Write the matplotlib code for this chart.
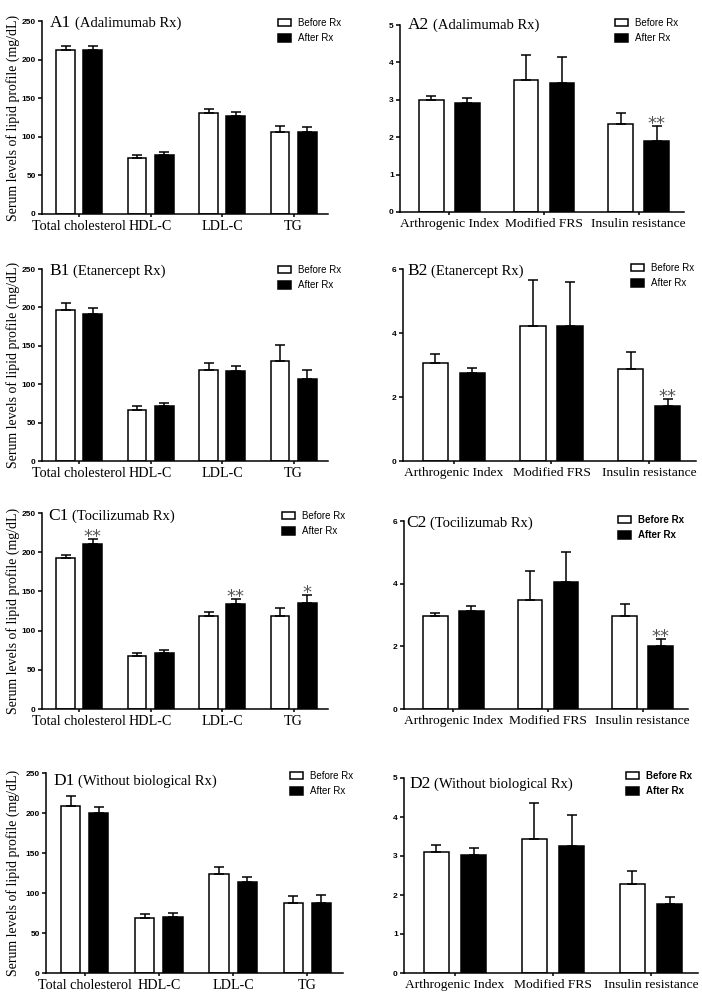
import matplotlib
matplotlib.use('Agg')
import matplotlib.pyplot as plt
from matplotlib.patches import Patch
import numpy as np

SERIF = 'Liberation Serif'
SANS = 'Liberation Sans'

lipid_cats = ['Total cholesterol', 'HDL-C', 'LDL-C', 'TG']
risk_cats = ['Arthrogenic Index', 'Modified FRS', 'Insulin resistance']
legend_labels = ['Before Rx', 'After Rx']

# A: Adalimumab
a1_before = [212, 73, 131, 106]
a1_before_err = [6, 3, 5.5, 8]
a1_after = [212, 77, 127, 106]
a1_after_err = [5.5, 3, 5.5, 7]
a1_sig = ['', '', '', '']
a2_before = [3.0, 3.53, 2.36]
a2_before_err = [0.1, 0.66, 0.28]
a2_after = [2.92, 3.44, 1.90]
a2_after_err = [0.13, 0.71, 0.40]
a2_sig = ['', '', '**']

# B: Etanercept
b1_before = [196, 67, 118, 130]
b1_before_err = [10, 4, 9, 21]
b1_after = [191, 72, 117, 107]
b1_after_err = [8, 3.5, 7, 11]
b1_sig = ['', '', '', '']
b2_before = [3.05, 4.21, 2.87]
b2_before_err = [0.3, 1.45, 0.55]
b2_after = [2.76, 4.22, 1.71]
b2_after_err = [0.15, 1.38, 0.23]
b2_sig = ['', '', '**']

# C: Tocilizumab
c1_before = [192, 68, 119, 119]
c1_before_err = [5, 3, 5, 10]
c1_after = [211, 72, 134, 135]
c1_after_err = [6, 3.5, 6, 10.6]
c1_sig = ['**', '', '**', '*']
c2_before = [2.96, 3.49, 2.98]
c2_before_err = [0.11, 0.91, 0.37]
c2_after = [3.13, 4.04, 2.0]
c2_after_err = [0.15, 0.97, 0.23]
c2_sig = ['', '', '**']

# D: without biological
d1_before = [209, 69, 124, 87]
d1_before_err = [12, 5, 9, 9]
d1_after = [200, 70, 114, 88]
d1_after_err = [8, 5, 6, 10]
d1_sig = ['', '', '', '']
d2_before = [3.10, 3.44, 2.28]
d2_before_err = [0.19, 0.93, 0.33]
d2_after = [3.02, 3.26, 1.78]
d2_after_err = [0.19, 0.78, 0.18]
d2_sig = ['', '', '']

W, H = 702, 992
fig = plt.figure(figsize=(W / 100, H / 100), dpi=100)


def draw_panel(box, cats, before, before_err, after, after_err, sig, ymax, yticks,
               tag, name, title_xy, leg_xy, leg_bold, ylabel, catsize):
    l, r, t, b = box
    ax = fig.add_axes([l / W, 1 - b / H, (r - l) / W, (b - t) / H])
    n = len(cats)
    x = np.arange(n)
    w, off = 0.26, 0.19
    ekw = dict(ecolor='black', elinewidth=1.1, capsize=3.5, capthick=1.1)
    ax.bar(x - off, before, w, color='white', edgecolor='black', linewidth=1.1,
           yerr=[np.zeros(n), before_err], error_kw=ekw)
    ax.bar(x + off, after, w, color='black', edgecolor='black', linewidth=1.1,
           yerr=[np.zeros(n), after_err], error_kw=ekw)
    for i, s in enumerate(sig):
        if s:
            ax.annotate(s, (x[i] + off, after[i] + after_err[i]), xytext=(0, -5),
                        textcoords='offset points', ha='center', va='bottom',
                        fontsize=13, color='#555555', family='DejaVu Sans')
    ax.set_ylim(0, ymax)
    ax.set_xlim(-0.52, n - 0.52)
    ax.set_yticks(yticks)
    ax.set_yticklabels([str(v) for v in yticks], family=SANS, fontweight='bold', fontsize=6)
    ax.set_xticks(x)
    ax.set_xticklabels(cats, family=SERIF, fontsize=catsize)
    ax.tick_params(axis='y', length=3, width=1.1, pad=1.5)
    ax.tick_params(axis='x', length=2.5, width=1.1, pad=1.5)
    for sp in ['top', 'right']:
        ax.spines[sp].set_visible(False)
    for sp in ['left', 'bottom']:
        ax.spines[sp].set_linewidth(1.1)
    if ylabel:
        ax.set_ylabel(ylabel, family=SERIF, fontsize=10)
        ax.yaxis.set_label_coords((20 - l) / (r - l), 0.5)

    tx, ty = title_xy
    t1 = fig.text(tx / W, 1 - ty / H, tag, family=SERIF, fontsize=12.5, va='baseline')
    fig.canvas.draw()
    ext = t1.get_window_extent()
    fig.text((ext.x1 + 4) / W, 1 - ty / H, name, family=SERIF, fontsize=10.5, va='baseline')

    handles = [Patch(facecolor='white', edgecolor='black', linewidth=1.1),
               Patch(facecolor='black', edgecolor='black', linewidth=1.1)]
    lx, ly = leg_xy
    ax.legend(handles, legend_labels, loc='upper left',
              bbox_to_anchor=(lx / W, 1 - (ly - 6) / H), bbox_transform=fig.transFigure,
              frameon=False, borderpad=0, borderaxespad=0, handlelength=1.3,
              handleheight=0.8, handletextpad=0.8, labelspacing=0.55,
              prop=dict(family=SANS, size=7, weight='bold' if leg_bold else 'normal'))
    return ax


ylab = 'Serum levels of lipid profile (mg/dL)'
lip_ticks = [0, 50, 100, 150, 200, 250]

draw_panel((42, 328, 21, 214), lipid_cats, a1_before, a1_before_err, a1_after, a1_after_err,
           a1_sig, 250, lip_ticks, 'A1', '(Adalimumab Rx)', (50, 27), (278, 24), False, ylab, 10.2)
draw_panel((400, 684, 25, 212), risk_cats, a2_before, a2_before_err, a2_after, a2_after_err,
           a2_sig, 5, [0, 1, 2, 3, 4, 5], 'A2', '(Adalimumab Rx)', (408, 29), (615, 24), False, None, 9.7)
draw_panel((42, 328, 269, 461), lipid_cats, b1_before, b1_before_err, b1_after, b1_after_err,
           b1_sig, 250, lip_ticks, 'B1', '(Etanercept Rx)', (49, 275), (278, 271), False, ylab, 10.2)
draw_panel((403, 696, 269, 461), risk_cats, b2_before, b2_before_err, b2_after, b2_after_err,
           b2_sig, 6, [0, 2, 4, 6], 'B2', '(Etanercept Rx)', (407, 275), (631, 269), False, None, 9.7)
draw_panel((42, 328, 513, 709), lipid_cats, c1_before, c1_before_err, c1_after, c1_after_err,
           c1_sig, 250, lip_ticks, 'C1', '(Tocilizumab Rx)', (48, 520), (282, 517), False, ylab, 10.2)
draw_panel((404, 688, 521, 709), risk_cats, c2_before, c2_before_err, c2_after, c2_after_err,
           c2_sig, 6, [0, 2, 4, 6], 'C2', '(Tocilizumab Rx)', (406, 527), (618, 521), True, None, 9.7)
draw_panel((46, 343, 773, 973), lipid_cats, d1_before, d1_before_err, d1_after, d1_after_err,
           d1_sig, 250, lip_ticks, 'D1', '(Without biological Rx)', (53, 785), (290, 777), False, ylab, 10.2)
draw_panel((404, 698, 778, 973), risk_cats, d2_before, d2_before_err, d2_after, d2_after_err,
           d2_sig, 5, [0, 1, 2, 3, 4, 5], 'D2', '(Without biological Rx)', (409, 788), (626, 777), True, None, 9.7)

fig.savefig('out.png', dpi=100)
